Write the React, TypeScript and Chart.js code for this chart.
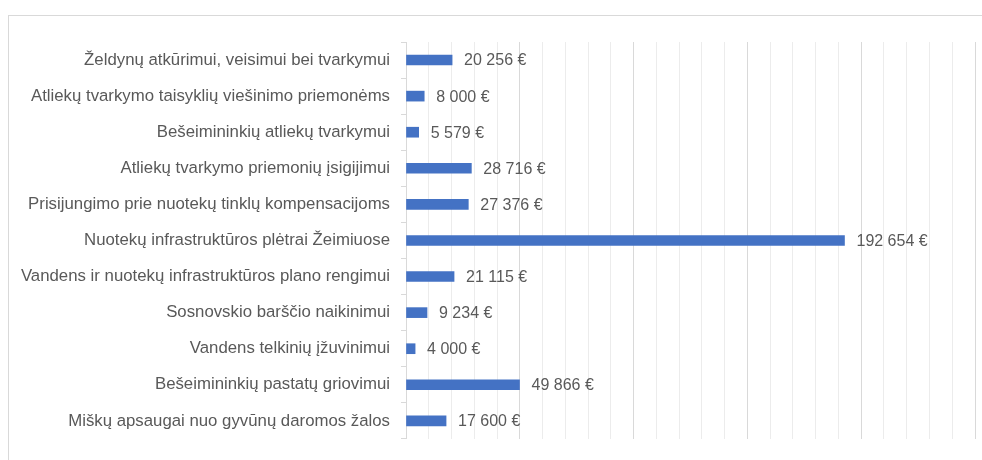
import React, { useEffect, useRef } from "react";
import { Chart, registerables } from "chart.js";

Chart.register(...registerables);

const categories: string[] = [
  "Želdynų atkūrimui, veisimui bei tvarkymui",
  "Atliekų tvarkymo taisyklių viešinimo priemonėms",
  "Bešeimininkių atliekų tvarkymui",
  "Atliekų tvarkymo priemonių įsigijimui",
  "Prisijungimo prie nuotekų tinklų kompensacijoms",
  "Nuotekų infrastruktūros plėtrai Žeimiuose",
  "Vandens ir nuotekų infrastruktūros plano rengimui",
  "Sosnovskio barščio naikinimui",
  "Vandens telkinių įžuvinimui",
  "Bešeimininkių pastatų griovimui",
  "Miškų apsaugai nuo gyvūnų daromos žalos",
];

const amounts: number[] = [20256, 8000, 5579, 28716, 27376, 192654, 21115, 9234, 4000, 49866, 17600];

const axisMin = 0;
const axisMax = 250000;
const minorStep = 10000;
const majorStep = 50000;

const fmt = (v: number) => String(v).replace(/\B(?=(\d{3})+(?!\d))/g, " ") + " €";

const LABEL_FONT = '"Liberation Sans", Arial, sans-serif';

const framePlugin = {
  id: "frame",
  beforeDraw(chart: any) {
    const ctx = chart.ctx;
    ctx.save();
    ctx.fillStyle = "#ffffff";
    ctx.fillRect(0, 0, chart.width, chart.height);
    ctx.strokeStyle = "#d9d9d9";
    ctx.lineWidth = 1;
    ctx.beginPath();
    ctx.moveTo(8, 15.5);
    ctx.lineTo(chart.width, 15.5);
    ctx.moveTo(8.5, 15);
    ctx.lineTo(8.5, chart.height);
    ctx.stroke();
    ctx.restore();
  },
};

const valueLabelPlugin = {
  id: "valueLabels",
  afterDatasetsDraw(chart: any) {
    const ctx = chart.ctx;
    const meta = chart.getDatasetMeta(0);
    const data = chart.data.datasets[0].data as number[];
    ctx.save();
    ctx.fillStyle = "#595959";
    ctx.font = `16px ${LABEL_FONT}`;
    ctx.textAlign = "left";
    ctx.textBaseline = "middle";
    meta.data.forEach((bar: any, i: number) => {
      ctx.fillText(fmt(data[i]), bar.x + 12, bar.y + 1);
    });
    ctx.restore();
  },
};

export default function App() {
  const ref = useRef<HTMLCanvasElement | null>(null);

  useEffect(() => {
    document.body.style.margin = "0";
    if (!ref.current) return;
    const chart = new Chart(ref.current, {
      type: "bar",
      data: {
        labels: categories,
        datasets: [
          {
            data: amounts,
            backgroundColor: "#4472C4",
            borderWidth: 0,
            barThickness: 10,
          },
        ],
      },
      options: {
        indexAxis: "y",
        animation: false,
        responsive: false,
        maintainAspectRatio: false,
        layout: { padding: { left: 0, right: 7, top: 42, bottom: 18 } },
        plugins: {
          legend: { display: false },
          tooltip: { enabled: false },
          title: { display: false },
        },
        scales: {
          x: {
            min: axisMin,
            max: axisMax,
            position: "bottom",
            ticks: { display: false, stepSize: minorStep },
            border: { display: false },
            grid: {
              drawTicks: false,
              color: (c: any) =>
                c.tick && c.tick.value % majorStep === 0 ? "#d9d9d9" : "#ececec",
              lineWidth: 1,
            },
          },
          y: {
            afterFit: (scale: any) => {
              scale.width = 406;
            },
            ticks: {
              color: "#595959",
              font: { family: LABEL_FONT, size: 16.8 },
              padding: 11,
              autoSkip: false,
            },
            border: { display: true, color: "#d9d9d9" },
            grid: {
              drawOnChartArea: false,
              drawTicks: true,
              tickLength: 5,
              color: "#d9d9d9",
              offset: true,
            },
          },
        },
      },
      plugins: [framePlugin, valueLabelPlugin],
    });
    return () => chart.destroy();
  }, []);

  return <canvas ref={ref} width={982} height={460} style={{ display: "block" }} />;
}
